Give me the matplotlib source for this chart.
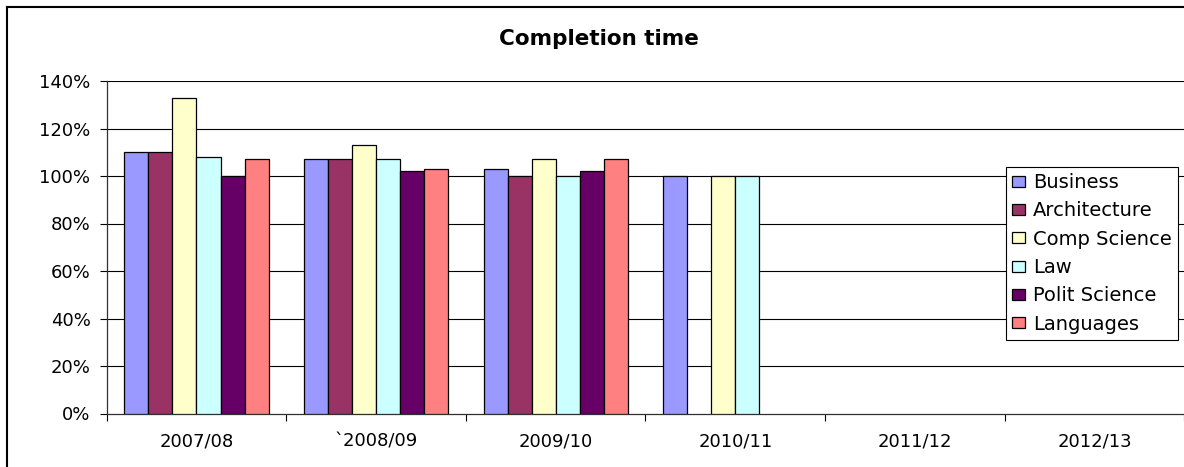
import numpy as np
import matplotlib
matplotlib.use("Agg")
import matplotlib.pyplot as plt
from matplotlib.lines import Line2D

categories = ["2007/08", "`2008/09", "2009/10", "2010/11", "2011/12", "2012/13"]
series_names = ["Business", "Architecture", "Comp Science", "Law", "Polit Science", "Languages"]
business = [1.10, 1.07, 1.03, 1.00, np.nan, np.nan]
architecture = [1.10, 1.07, 1.00, np.nan, np.nan, np.nan]
comp_science = [1.33, 1.13, 1.07, 1.00, np.nan, np.nan]
law = [1.08, 1.07, 1.00, 1.00, np.nan, np.nan]
polit_science = [1.00, 1.02, 1.02, np.nan, np.nan, np.nan]
languages = [1.07, 1.03, 1.07, np.nan, np.nan, np.nan]
series_values = [business, architecture, comp_science, law, polit_science, languages]
colors = ["#9999FF", "#993366", "#FFFFCC", "#CCFFFF", "#660066", "#FF8080"]
y_ticks = [0, 0.2, 0.4, 0.6, 0.8, 1.0, 1.2, 1.4]
y_labels = ["0%", "20%", "40%", "60%", "80%", "100%", "120%", "140%"]

plt.rcParams['font.family'] = ['DejaVu Sans']
W, H = 1184, 467
fig = plt.figure(figsize=(W / 100, H / 100), dpi=100)
ax = fig.add_axes([106.7 / W, 1 - 413.5 / H, 1077.6 / W, 332.5 / H])

n = len(series_names)
bw = 0.134
x = np.arange(len(categories))
for i, (name, vals, c) in enumerate(zip(series_names, series_values, colors)):
    ax.bar(x + (i - (n - 1) / 2) * bw, vals, width=bw, color=c,
           edgecolor="black", linewidth=0.9, label=name, zorder=3)

ax.set_xlim(-0.5, len(categories) - 0.5)
ax.set_ylim(0, 1.4)
ax.set_yticks(y_ticks)
ax.set_yticklabels(y_labels, fontsize=13)
for yv in y_ticks[1:]:
    ax.axhline(yv, color="black", linewidth=0.8, zorder=1)

ax.set_xticks(np.arange(len(categories) + 1) - 0.5)
ax.set_xticklabels([""] * (len(categories) + 1))
ax.set_xticks(x, minor=True)
ax.set_xticklabels(categories, minor=True, fontsize=13)
ax.tick_params(axis="x", which="major", length=4.7, width=0.8, direction="out", color="black")
ax.tick_params(axis="x", which="minor", length=0, pad=14)
ax.tick_params(axis="y", length=4.7, width=0.8, direction="out", pad=7)

for s in ["top", "right"]:
    ax.spines[s].set_visible(False)
ax.spines["left"].set_color("#303030")
ax.spines["bottom"].set_color("#303030")
ax.spines["left"].set_linewidth(0.9)
ax.spines["bottom"].set_linewidth(0.9)

fig.text(599 / W, 1 - 39 / H, "Completion time", ha="center", va="center",
         fontsize=15.5, fontweight="bold")

leg = ax.legend(loc="upper left", bbox_to_anchor=(1005.7 / W, 1 - 167.3 / H),
                bbox_transform=fig.transFigure, fontsize=14, frameon=True,
                fancybox=False, edgecolor="black", framealpha=1,
                handlelength=0.67, handleheight=0.5, handletextpad=0.45,
                labelspacing=0.48, borderpad=0.3, borderaxespad=0)
leg.get_frame().set_linewidth(0.8)
leg.set_zorder(10)

x0 = 7.3 / W
yt = 1 - 7.3 / H
fig.add_artist(Line2D([x0, x0], [0, yt], transform=fig.transFigure, color="black", linewidth=1.5))
fig.add_artist(Line2D([x0, 1], [yt, yt], transform=fig.transFigure, color="black", linewidth=1.5))

fig.savefig("out.png", dpi=100)
